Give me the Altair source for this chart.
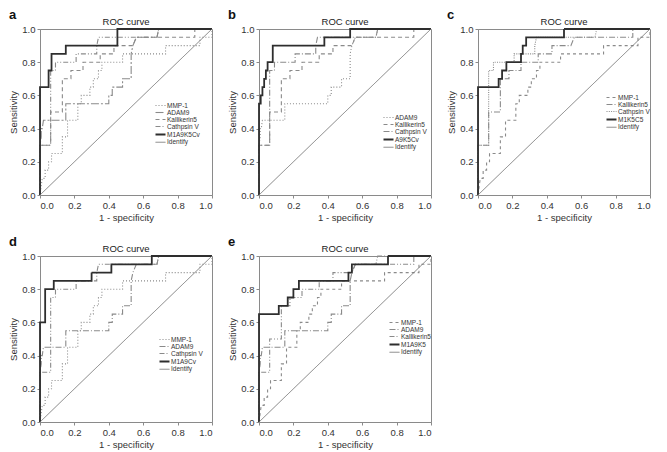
import altair as alt
import pandas as pd

# ---- ROC curves: x = 1 - specificity, y = sensitivity ----
MMP1_X = [0, 0.013, 0.03, 0.03, 0.05, 0.05, 0.067, 0.067, 0.13, 0.13, 0.16, 0.16, 0.22, 0.22, 0.24, 0.24,
          0.29, 0.29, 0.31, 0.31, 0.34, 0.34, 0.36, 0.36, 0.48, 0.48, 0.73, 0.73, 0.93, 0.93, 1.0, 1.0]
MMP1_Y = [0, 0.10, 0.10, 0.15, 0.15, 0.20, 0.20, 0.25, 0.25, 0.35, 0.35, 0.45, 0.45, 0.55, 0.55, 0.60,
          0.60, 0.65, 0.65, 0.70, 0.70, 0.75, 0.75, 0.80, 0.80, 0.85, 0.85, 0.90, 0.90, 0.95, 0.95, 1.0]

ADAM9_X = [0, 0, 0.007, 0.007, 0.013, 0.02, 0.15, 0.15, 0.40, 0.40, 0.42, 0.42, 0.48, 0.48, 0.53, 0.53,
           0.54, 0.56, 0.68, 0.69, 1.0]
ADAM9_Y = [0, 0.30, 0.35, 0.40, 0.40, 0.45, 0.45, 0.55, 0.55, 0.60, 0.60, 0.65, 0.65, 0.70, 0.70, 0.85,
           0.90, 0.95, 0.95, 1.0, 1.0]

KLK5_X = [0, 0, 0.062, 0.062, 0.13, 0.13, 0.18, 0.18, 0.25, 0.25, 0.35, 0.35, 0.43, 0.43, 0.54, 0.56,
          0.90, 0.90, 1.0]
KLK5_Y = [0, 0.30, 0.30, 0.50, 0.50, 0.70, 0.70, 0.75, 0.75, 0.80, 0.80, 0.85, 0.85, 0.90, 0.90, 0.95,
          0.95, 1.0, 1.0]

CTSV_X = [0, 0, 0.062, 0.062, 0.09, 0.09, 0.21, 0.21, 0.33, 0.33, 0.34, 0.68, 0.69, 1.0]
CTSV_Y = [0, 0.30, 0.30, 0.75, 0.75, 0.80, 0.80, 0.85, 0.85, 0.90, 0.95, 0.95, 1.0, 1.0]

COMB_A_X = [0, 0, 0.05, 0.05, 0.067, 0.067, 0.15, 0.15, 0.45, 0.45, 1.0]
COMB_A_Y = [0, 0.65, 0.65, 0.75, 0.75, 0.85, 0.85, 0.90, 0.90, 1.0, 1.0]

COMB_B_X = [0, 0, 0.01, 0.01, 0.02, 0.02, 0.03, 0.03, 0.04, 0.04, 0.05, 0.05, 0.08, 0.08, 0.38, 0.38,
            0.53, 0.53, 1.0]
COMB_B_Y = [0, 0.55, 0.55, 0.60, 0.60, 0.65, 0.65, 0.70, 0.70, 0.75, 0.75, 0.80, 0.80, 0.90, 0.90, 0.95,
            0.95, 1.0, 1.0]

COMB_C_X = [0, 0, 0.12, 0.12, 0.14, 0.14, 0.165, 0.165, 0.25, 0.25, 0.26, 0.26, 0.28, 0.28, 0.50, 0.50, 1.0]
COMB_C_Y = [0, 0.65, 0.65, 0.70, 0.70, 0.75, 0.75, 0.80, 0.80, 0.85, 0.85, 0.90, 0.90, 0.95, 0.95, 1.0, 1.0]

COMB_D_X = [0, 0, 0.03, 0.03, 0.08, 0.08, 0.30, 0.30, 0.415, 0.415, 0.65, 0.65, 1.0]
COMB_D_Y = [0, 0.60, 0.60, 0.80, 0.80, 0.85, 0.85, 0.90, 0.90, 0.95, 0.95, 1.0, 1.0]

COMB_E_X = [0, 0, 0.115, 0.115, 0.167, 0.167, 0.20, 0.20, 0.232, 0.232, 0.52, 0.52, 0.54, 0.54, 0.75, 0.75, 1.0]
COMB_E_Y = [0, 0.65, 0.65, 0.70, 0.70, 0.75, 0.75, 0.80, 0.80, 0.85, 0.85, 0.90, 0.90, 0.95, 0.95, 1.0, 1.0]

IDENT_X = [0, 1]
IDENT_Y = [0, 1]

CURVES = {
    "MMP-1": (MMP1_X, MMP1_Y),
    "ADAM9": (ADAM9_X, ADAM9_Y),
    "Kallikerin5": (KLK5_X, KLK5_Y),
    "Cathpsin V": (CTSV_X, CTSV_Y),
    "M1A9K5Cv": (COMB_A_X, COMB_A_Y),
    "A9K5Cv": (COMB_B_X, COMB_B_Y),
    "M1K5C5": (COMB_C_X, COMB_C_Y),
    "M1A9Cv": (COMB_D_X, COMB_D_Y),
    "M1A9K5": (COMB_E_X, COMB_E_Y),
    "Identify": (IDENT_X, IDENT_Y),
}

PANEL_LETTERS = ["a", "b", "c", "d", "e"]
PANEL_TITLE = "ROC curve"
PANEL_SERIES = [
    ["MMP-1", "ADAM9", "Kallikerin5", "Cathpsin V", "M1A9K5Cv", "Identify"],
    ["ADAM9", "Kallikerin5", "Cathpsin V", "A9K5Cv", "Identify"],
    ["MMP-1", "Kallikerin5", "Cathpsin V", "M1K5C5", "Identify"],
    ["MMP-1", "ADAM9", "Cathpsin V", "M1A9Cv", "Identify"],
    ["MMP-1", "ADAM9", "Kallikerin5", "M1A9K5", "Identify"],
]
TICKS = [0.0, 0.2, 0.4, 0.6, 0.8, 1.0]

# ---- styles ----
SOLID = [1, 0]
DOT = [1, 2]
DASH = [3, 3]
DASH2 = [4, 3]
DASHDOT = [6, 2, 1, 2]
LONGDASHDOT = [8, 2, 2, 2]
DASHDOTDOT = [5, 2, 1, 2, 1, 2]
DENSEDOT = [1, 1.3]

PANEL_DASHES = [
    [DOT, LONGDASHDOT, DASH2, DASHDOTDOT, SOLID, SOLID],
    [DOT, DASH2, DASHDOT, SOLID, SOLID],
    [DASH, DASHDOT, DENSEDOT, SOLID, SOLID],
    [DOT, DASHDOT, DASHDOTDOT, SOLID, SOLID],
    [DASH, DASHDOT, DASHDOTDOT, SOLID, SOLID],
]
LEGEND_POS = [(117, 73), (126, 85), (130, 65), (121, 80), (132, 63)]

W, H = 172, 166
FONT = "Liberation Sans"


def make_panel(k):
    series = PANEL_SERIES[k]
    rows = []
    for s in series:
        xs, ys = CURVES[s]
        for i, (x, y) in enumerate(zip(xs, ys)):
            rows.append({"series": s, "x": x, "y": y, "i": i})
    df = pd.DataFrame(rows)
    n = len(series)
    colors = ["#8a8a8a"] * (n - 2) + ["#2e2e2e", "#707070"]
    widths = [1.1] * (n - 2) + [1.8, 0.9]
    lx, ly = LEGEND_POS[k]
    leg = alt.Legend(title=None, orient="none", legendX=lx, legendY=ly,
                     labelFontSize=6.5, labelFont=FONT, labelColor="#333",
                     symbolSize=25, symbolType="M-2,0L2,0", rowPadding=0,
                     labelOffset=3, padding=0)
    lines = alt.Chart(df).mark_line(strokeCap="butt").encode(
        x=alt.X("x:Q", scale=alt.Scale(domain=[0, 1], nice=False),
                axis=alt.Axis(values=TICKS, format=".1f", title="1 - specificity")),
        y=alt.Y("y:Q", scale=alt.Scale(domain=[0, 1], nice=False),
                axis=alt.Axis(values=TICKS, format=".1f", title="Sensitivity")),
        order="i:Q",
        color=alt.Color("series:N", scale=alt.Scale(domain=series, range=colors), legend=leg),
        strokeDash=alt.StrokeDash("series:N", scale=alt.Scale(domain=series, range=PANEL_DASHES[k]), legend=leg),
        strokeWidth=alt.StrokeWidth("series:N", scale=alt.Scale(type="ordinal", domain=series, range=widths), legend=leg),
    )
    letter = alt.Chart(pd.DataFrame({"t": [PANEL_LETTERS[k]]})).mark_text(
        align="left", baseline="alphabetic", fontSize=13, fontWeight="bold", font=FONT, color="#111"
    ).encode(text="t:N", x=alt.value(-31), y=alt.value(-10))
    title = alt.Chart(pd.DataFrame({"t": [PANEL_TITLE]})).mark_text(
        align="center", baseline="alphabetic", fontSize=9.5, font=FONT, color="#222"
    ).encode(text="t:N", x=alt.value(W / 2), y=alt.value(-4))
    return alt.layer(lines, letter, title).properties(width=W, height=H)


RES = dict(color="independent", strokeDash="independent", strokeWidth="independent")
row1 = alt.hconcat(make_panel(0), make_panel(1), make_panel(2), spacing=10).resolve_scale(**RES)
row2 = alt.hconcat(make_panel(3), make_panel(4), spacing=10).resolve_scale(**RES)
chart = alt.vconcat(row1, row2, spacing=12).resolve_scale(**RES).properties(
    padding={"left": 0, "top": 0, "right": 0, "bottom": 0}
).configure_view(stroke="#8a8a8a", strokeWidth=1).configure_axis(
    grid=False, labelFontSize=9.5, titleFontSize=9.5, labelFont=FONT, titleFont=FONT,
    titleFontWeight="normal", labelColor="#333", titleColor="#333",
    domainColor="#8a8a8a", tickColor="#8a8a8a", tickSize=3, labelPadding=2, titlePadding=3,
)

chart.save("out.html", embed_options={"renderer": "svg", "actions": False})
